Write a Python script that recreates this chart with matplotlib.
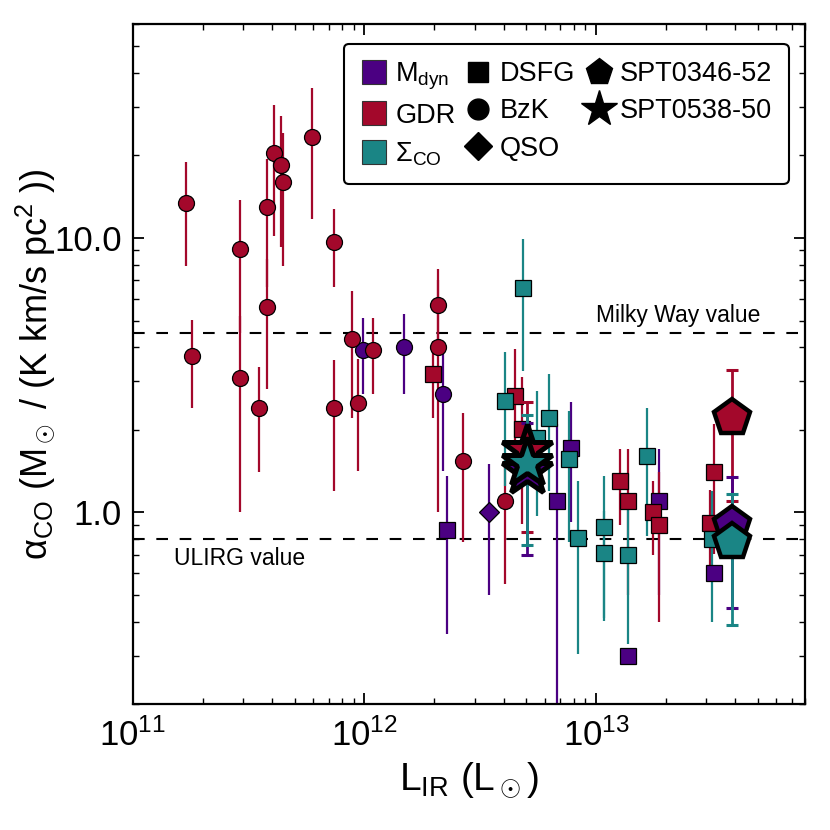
import numpy as np
import matplotlib
matplotlib.use('Agg')
import matplotlib.pyplot as plt
from matplotlib import font_manager
from matplotlib.lines import Line2D
from matplotlib.ticker import LogLocator, FixedLocator, FormatStrFormatter, NullFormatter, LogFormatterMathtext

names = {f.name for f in font_manager.fontManager.ttflist}
MAIN = 'Liberation Sans' if 'Liberation Sans' in names else 'DejaVu Sans'
NARROW = 'Liberation Sans Narrow' if 'Liberation Sans Narrow' in names else MAIN

plt.rcParams['font.family'] = [MAIN, 'DejaVu Sans']
plt.rcParams['mathtext.fontset'] = 'custom'
plt.rcParams['mathtext.rm'] = MAIN
plt.rcParams['mathtext.it'] = MAIN + ':italic'
plt.rcParams['mathtext.bf'] = MAIN + ':bold'
plt.rcParams['mathtext.sf'] = MAIN

# ---------------- data ----------------
C_MDYN = '#4b0082'
C_GDR = '#a3082b'
C_SIG = '#1a8585'

# GDR, BzK (circles)
gdr_bzk_L = [1.69e11, 1.80e11, 2.89e11, 2.89e11, 3.50e11, 3.78e11, 3.78e11, 4.06e11,
             4.38e11, 4.45e11, 5.92e11, 7.36e11, 7.36e11, 8.80e11, 9.38e11, 1.094e12,
             2.08e12, 2.08e12, 2.67e12, 4.05e12]
gdr_bzk_a = [13.4, 3.71, 9.09, 3.10, 2.40, 13.0, 5.61, 20.4, 18.5, 16.0, 23.4, 9.70,
             2.40, 4.30, 2.51, 3.91, 5.71, 4.00, 1.54, 1.10]
gdr_bzk_e = [5.5, 1.3, 4.6, 2.1, 1.0, 6.4, 2.8, 10.2, 9.2, 8.1, 11.7, 3.1, 1.2, 2.1,
             1.1, 1.2, 2.0, 3.0, 0.76, 0.55]

# Mdyn, BzK (circles)
mdyn_bzk_L = [9.89e11, 1.48e12, 2.18e12]
mdyn_bzk_a = [3.91, 4.00, 2.71]
mdyn_bzk_e = [1.2, 1.3, 1.3]

# GDR, DSFG (squares)
gdr_dsfg_L = [1.98e12, 4.45e12, 4.79e12, 1.276e13, 1.377e13, 1.764e13, 1.866e13, 3.23e13, 3.11e13]
gdr_dsfg_a = [3.20, 2.65, 2.01, 1.30, 1.10, 1.00, 0.90, 1.405, 0.914]
gdr_dsfg_e = [1.0, 1.3, 1.1, 0.4, 0.6, 0.3, 0.5, 0.7, 0.29]

# Sigma_CO, DSFG (squares)
sig_dsfg_L = [4.05e12, 4.83e12, 5.55e12, 6.30e12, 7.65e12, 8.34e12, 1.08e13, 1.08e13,
              1.377e13, 1.667e13, 3.17e13]
sig_dsfg_a = [2.55, 6.58, 1.87, 2.20, 1.56, 0.804, 0.882, 0.711, 0.701, 1.61, 0.80]
sig_dsfg_e = [1.3, 3.3, 0.9, 1.0, 0.78, 0.5, 0.48, 0.3, 0.37, 0.79, 0.4]

# Mdyn, DSFG (squares)
mdyn_dsfg_L = [2.28e12, 6.79e12, 7.78e12, 1.377e13, 1.866e13, 3.23e13]
mdyn_dsfg_a = [0.862, 1.10, 1.72, 0.301, 1.10, 0.602]
mdyn_dsfg_e = [0.5, 1.0, 0.8, 0.0, 0.6, 0.0]

# Mdyn, QSO (diamond)
mdyn_qso_L = [3.44e12]
mdyn_qso_a = [1.0]
mdyn_qso_e = [0.5]

# SPT sources: order Mdyn, GDR, Sigma_CO
spt0346_L = 3.85e13
spt0346_a = [0.90, 2.2, 0.78]
spt0346_e = [0.45, 1.1, 0.39]
spt0538_L = 5.03e12
spt0538_a = [1.41, 1.69, 1.51]
spt0538_e = [0.71, 0.84, 0.75]

MW_VALUE = 4.5
ULIRG_VALUE = 0.8

# ---------------- figure ----------------
fig = plt.figure(figsize=(8.3, 8.3), dpi=100)
ax = fig.add_axes([0.160, 0.1514, 0.810, 0.8193])
ax.set_xscale('log')
ax.set_yscale('log')

for y in (MW_VALUE, ULIRG_VALUE):
    ln = ax.axhline(y, color='black', lw=1.5, zorder=1)
    ln.set_dashes((5.6, 5.6))

groups = [
    (mdyn_bzk_L, mdyn_bzk_a, mdyn_bzk_e, C_MDYN, 'o', 11.5),
    (gdr_bzk_L, gdr_bzk_a, gdr_bzk_e, C_GDR, 'o', 11.5),
    (mdyn_qso_L, mdyn_qso_a, mdyn_qso_e, C_MDYN, 'D', 10.5),
    (mdyn_dsfg_L, mdyn_dsfg_a, mdyn_dsfg_e, C_MDYN, 's', 11),
    (gdr_dsfg_L, gdr_dsfg_a, gdr_dsfg_e, C_GDR, 's', 11),
    (sig_dsfg_L, sig_dsfg_a, sig_dsfg_e, C_SIG, 's', 11),
]

for L, a, e, c, m, ms in groups:
    ax.errorbar(L, a, yerr=e, fmt='none', ecolor=c, elinewidth=1.6, zorder=2)
for L, a, e, c, m, ms in groups:
    ax.plot(L, a, ls='none', marker=m, ms=ms, mfc=c, mec='black', mew=0.9, zorder=3)

cols = [C_MDYN, C_GDR, C_SIG]
# SPT0346-52 pentagons
for i in (1, 0, 2):
    ax.errorbar([spt0346_L], [spt0346_a[i]], yerr=[spt0346_e[i]], fmt='none', ecolor=cols[i],
                elinewidth=2.0, capsize=4.5, capthick=2.2, zorder=4)
for i in (1, 0, 2):
    ax.plot([spt0346_L], [spt0346_a[i]], ls='none', marker='p', ms=27, mfc=cols[i],
            mec='black', mew=3.2, zorder=5)
# SPT0538-50 stars
for i in (1, 0, 2):
    ax.errorbar([spt0538_L], [spt0538_a[i]], yerr=[spt0538_e[i]], fmt='none', ecolor=cols[i],
                elinewidth=2.0, capsize=4.5, capthick=2.2, zorder=4)
for i in (1, 0, 2):
    ax.plot([spt0538_L], [spt0538_a[i]], ls='none', marker='*', ms=38, mfc=cols[i],
            mec='black', mew=3.6, zorder=5)

ax.set_xlim(1e11, 8e13)
ax.set_ylim(0.2, 60)

ax.xaxis.set_major_locator(FixedLocator([1e11, 1e12, 1e13]))
ax.xaxis.set_major_formatter(LogFormatterMathtext())
ax.xaxis.set_minor_locator(LogLocator(base=10, subs=np.arange(2, 10), numticks=20))
ax.xaxis.set_minor_formatter(NullFormatter())
ax.yaxis.set_major_locator(FixedLocator([1.0, 10.0]))
ax.yaxis.set_major_formatter(FormatStrFormatter('%.1f'))
ax.yaxis.set_minor_locator(LogLocator(base=10, subs=np.arange(2, 10), numticks=20))
ax.yaxis.set_minor_formatter(NullFormatter())

ax.tick_params(which='both', direction='in', top=True, right=True)
ax.tick_params(which='major', length=8, width=1.3)
ax.tick_params(which='minor', length=4, width=1.0)
ax.tick_params(axis='y', which='major', labelsize=25, labelfontfamily=NARROW, pad=8)
ax.tick_params(axis='x', which='major', labelsize=25, labelfontfamily=NARROW, pad=10)
for sp in ax.spines.values():
    sp.set_linewidth(1.6)

ax.set_xlabel(r'L$_{\rm IR}$ (L$_\odot$)', fontsize=28, labelpad=6)
ax.set_ylabel('α$_{\\rm CO}$ (M$_\\odot$ / (K km/s pc$^2$ ))', fontsize=26)
ax.yaxis.set_label_coords(-0.112, 0.5)

ax.text(1e13, MW_VALUE * 1.05, 'Milky Way value', fontsize=16.5, ha='left', va='bottom')
ax.text(1.5e11, 0.75, 'ULIRG value', fontsize=16.5, ha='left', va='top')

handles = [
    Line2D([], [], ls='none', marker='s', ms=17, mfc=C_MDYN, mec='#333333', mew=0.8),
    Line2D([], [], ls='none', marker='s', ms=17, mfc=C_GDR, mec='#333333', mew=0.8),
    Line2D([], [], ls='none', marker='s', ms=17, mfc=C_SIG, mec='#333333', mew=0.8),
    Line2D([], [], ls='none', marker='s', ms=14, mfc='black', mec='black'),
    Line2D([], [], ls='none', marker='o', ms=15, mfc='black', mec='black'),
    Line2D([], [], ls='none', marker='D', ms=14, mfc='black', mec='black'),
    Line2D([], [], ls='none', marker='p', ms=20, mfc='black', mec='black'),
    Line2D([], [], ls='none', marker='*', ms=27, mfc='black', mec='black'),
]
labels = ['M$_{\\rm dyn}$', 'GDR', 'Σ$_{\\rm CO}$', 'DSFG', 'BzK', 'QSO',
          'SPT0346-52', 'SPT0538-50']
leg = ax.legend(handles, labels, ncol=3, loc='upper right',
                bbox_to_anchor=(0.9758, 0.971), borderaxespad=0, fontsize=19.5,
                handlelength=1.0, handletextpad=0.3, columnspacing=0.35,
                labelspacing=0.42, borderpad=0.6, fancybox=True, framealpha=1)
leg.get_frame().set_edgecolor('black')
leg.get_frame().set_linewidth(1.5)

fig.savefig('out.png', dpi=100)
